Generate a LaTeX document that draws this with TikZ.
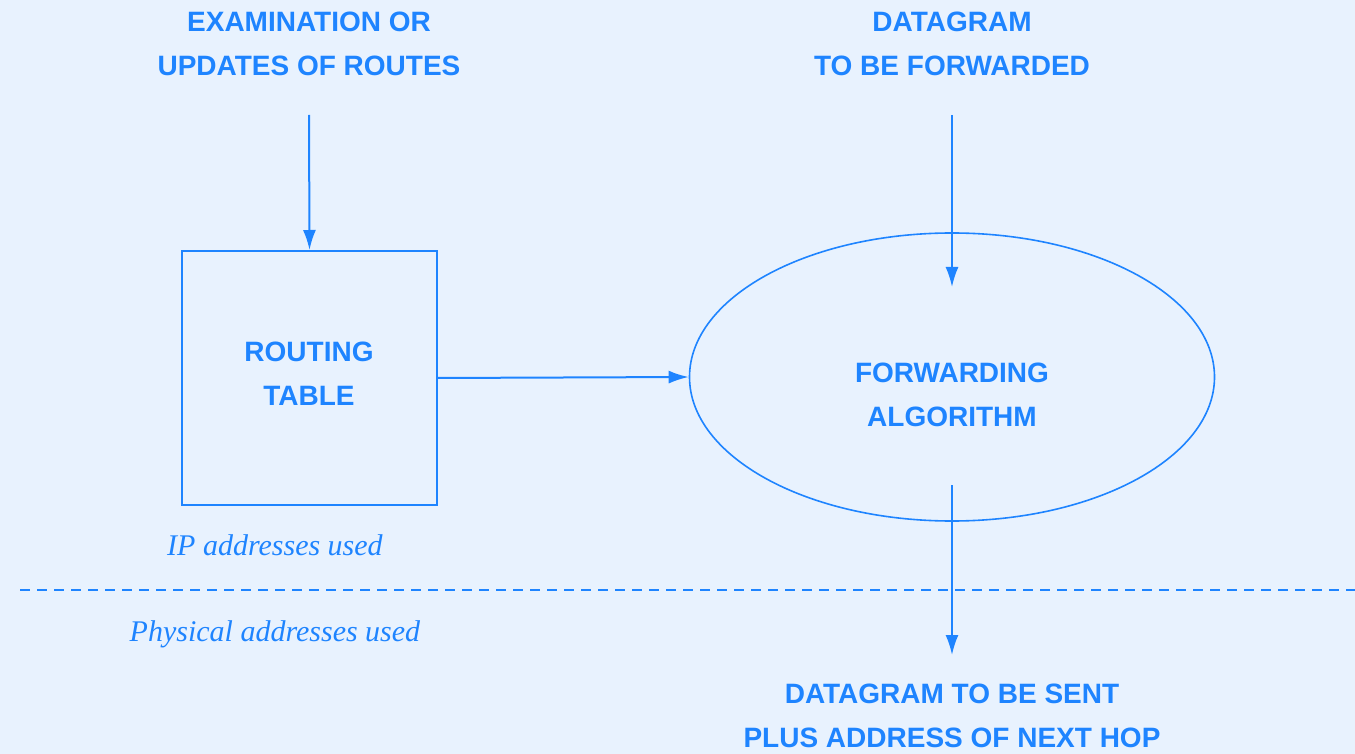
\documentclass[tikz,border=0pt]{standalone}
\usepackage{fontspec}
\usepackage{xcolor}
\usetikzlibrary{shapes.geometric, arrows.meta, positioning}
\newfontfamily\capsfont{Liberation Sans}
\newfontfamily\notefont{Liberation Serif}
\definecolor{paper}{HTML}{E8F2FE}
\definecolor{ink}{HTML}{1E84FF}

\begin{document}
\begin{tikzpicture}[
    x=0.5pt, y=-0.5pt,
    caption/.style={align=center, text=ink, inner sep=0pt, font=\capsfont\bfseries\fontsize{14}{22}\selectfont},
    note/.style={text=ink, inner sep=0pt, font=\notefont\itshape\fontsize{15}{18}\selectfont},
    tablebox/.style={rectangle, draw=ink, line width=1pt, minimum width=127.5pt, minimum height=127pt, inner sep=0pt},
    algobox/.style={ellipse, draw=ink, line width=0.8pt, minimum width=262.5pt, minimum height=144pt, inner sep=0pt},
    arr/.style={-{Latex[length=10pt, width=6.5pt]}, line width=1pt, color=ink}
]
\fill[paper] (0,0) rectangle (1355,754);
\useasboundingbox (0,0) rectangle (1355,754);

% inputs
\node[caption] (updates) at (309,44) {EXAMINATION OR\\UPDATES OF ROUTES};
\node[caption] (incoming) at (952,44) {DATAGRAM\\TO BE FORWARDED};

% main blocks
\node[tablebox] (table) at (309.5,378) {};
\node[caption] (tablelbl) at (309,374) {ROUTING\\TABLE};
\node[algobox] (algo) at (952,377) {};
\node[caption] (algolbl) at (952,395) {FORWARDING\\ALGORITHM};

% output
\node[caption] (outgoing) at (952,716) {DATAGRAM TO BE SENT\\PLUS ADDRESS OF NEXT HOP};

% address layers
\node[note] (iplayer) at (275,545) {IP addresses used};
\node[note] (phylayer) at (275,634) {Physical addresses used};

\coordinate (updtail) at (309,115);
\coordinate (intail) at (952,115);
\coordinate (inhead) at (952,287);
\coordinate (outtail) at (952,485);
\coordinate (outhead) at (952,655);
\coordinate (sepl) at (20,590);
\coordinate (sepr) at (1355,590);

\draw[ink, line width=1pt, dash pattern=on 5pt off 3.5pt] (sepl) -- (sepr);

\draw[arr] (updtail) -- (table.north);
\draw[arr] (intail) -- (inhead);
\draw[arr] (table.east) -- (algo.west);
\draw[arr] (outtail) -- (outhead);

\end{tikzpicture}
\end{document}
